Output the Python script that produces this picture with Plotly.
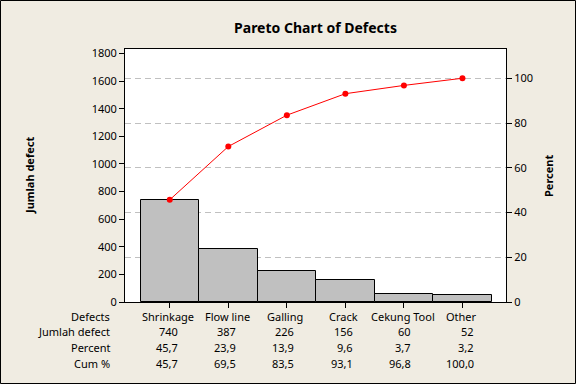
import plotly.graph_objects as go

# ---- data ----
categories = ["Shrinkage", "Flow line", "Galling", "Crack", "Cekung Tool", "Other"]
counts = [740, 387, 226, 156, 60, 52]
percent = [45.7, 23.9, 13.9, 9.6, 3.7, 3.2]
cum_percent = [45.7, 69.5, 83.5, 93.1, 96.8, 100.0]
row_labels = ["Defects", "Jumlah defect", "Percent", "Cum %"]

# ---- layout constants (pixels in a 576x384 canvas) ----
W, H = 576, 384
L, R, T, B = 125, 506, 49, 302          # plot frame
BG = "#F0ECE2"
FONT = "Noto Sans"
TXT = "#000000"

def px(x):
    return (x - L) / (R - L)

def py(y):
    return (B - y) / (B - T)

left_max = 1833
total = sum(counts)
right_max = left_max / total * 100

fig = go.Figure()
fig.add_trace(go.Bar(
    x=list(range(len(categories))), y=counts, width=1,
    marker=dict(color="#C0C0C0", line=dict(color="black", width=1)),
    showlegend=False, hoverinfo="skip"))
fig.add_trace(go.Scatter(
    x=list(range(len(categories))), y=cum_percent, yaxis="y2",
    mode="lines+markers",
    line=dict(color="#FF0000", width=1),
    marker=dict(color="#FF0000", size=6),
    showlegend=False, hoverinfo="skip"))

annotations = []
# table rows
row_y = [316, 331, 347.5, 363.5]
name_cx = [168, 227, 285, 343, 403, 461.5]
col_rx = [179.5, 237.5, 295.5, 354.5, 413, 475.5]

def fmt(v):
    return f"{v:.1f}".replace(".", ",")

for lab, yy in zip(row_labels, row_y):
    annotations.append(dict(text=lab, x=px(112), y=py(yy), xref="paper", yref="paper",
                            xanchor="right", yanchor="middle", showarrow=False,
                            font=dict(family=FONT, size=11, color=TXT)))
for i, c in enumerate(categories):
    annotations.append(dict(text=c, x=px(name_cx[i]), y=py(row_y[0]), xref="paper", yref="paper",
                            xanchor="center", yanchor="middle", showarrow=False,
                            font=dict(family=FONT, size=11, color=TXT)))
    for txt, yy in ((str(counts[i]), row_y[1]), (fmt(percent[i]), row_y[2]), (fmt(cum_percent[i]), row_y[3])):
        annotations.append(dict(text=txt, x=px(col_rx[i]), y=py(yy), xref="paper", yref="paper",
                                xanchor="right", yanchor="middle", showarrow=False,
                                font=dict(family=FONT, size=11, color=TXT)))
# axis titles
annotations.append(dict(text="<b>Jumlah defect</b>", x=px(29), y=py(176), xref="paper", yref="paper",
                        textangle=-90, showarrow=False, xanchor="center", yanchor="middle",
                        font=dict(family=FONT, size=11, color=TXT)))
annotations.append(dict(text="<b>Percent</b>", x=px(548), y=py(176), xref="paper", yref="paper",
                        textangle=-90, showarrow=False, xanchor="center", yanchor="middle",
                        font=dict(family=FONT, size=11, color=TXT)))

fig.update_layout(
    width=W, height=H,
    margin=dict(l=L, r=W - R, t=T, b=H - B, pad=0),
    paper_bgcolor=BG, plot_bgcolor="white",
    title=dict(text="<b>Pareto Chart of Defects</b>", x=0.5, xref="paper",
               xanchor="center", y=1 - 28 / H, yanchor="middle",
               font=dict(family=FONT, size=14, color=TXT)),
    bargap=0,
    xaxis=dict(range=[-0.765, 5.744], tickvals=list(range(len(categories))),
               showticklabels=False, ticks="outside", ticklen=5, tickcolor="black",
               showline=True, linecolor="black", linewidth=1, mirror=True,
               showgrid=False, zeroline=False, fixedrange=True),
    yaxis=dict(range=[0, left_max], tickvals=list(range(0, 1801, 200)),
               ticks="outside", ticklen=5, tickcolor="black",
               showline=True, linecolor="black", linewidth=1, mirror=True,
               showgrid=False, zeroline=False,
               tickfont=dict(family=FONT, size=11, color=TXT)),
    yaxis2=dict(range=[0, right_max], tickvals=list(range(0, 101, 20)),
                overlaying="y", side="right", anchor="x",
                ticks="outside", ticklen=5, tickcolor="black",
                showline=True, linecolor="black", linewidth=1,
                showgrid=True, gridcolor="#C0C0C0", griddash="6px,4px", gridwidth=1,
                zeroline=False,
                tickfont=dict(family=FONT, size=11, color=TXT)),
    annotations=annotations,
    shapes=[dict(type="rect", xref="paper", yref="paper",
                 x0=px(0.5), x1=px(W - 0.5), y0=py(H - 0.5), y1=py(0.5),
                 line=dict(color="black", width=1), layer="below")],
)

fig.write_html("out.html", config={"displayModeBar": False},
               post_script="document.body.style.margin='0';document.body.style.overflow='hidden';")
